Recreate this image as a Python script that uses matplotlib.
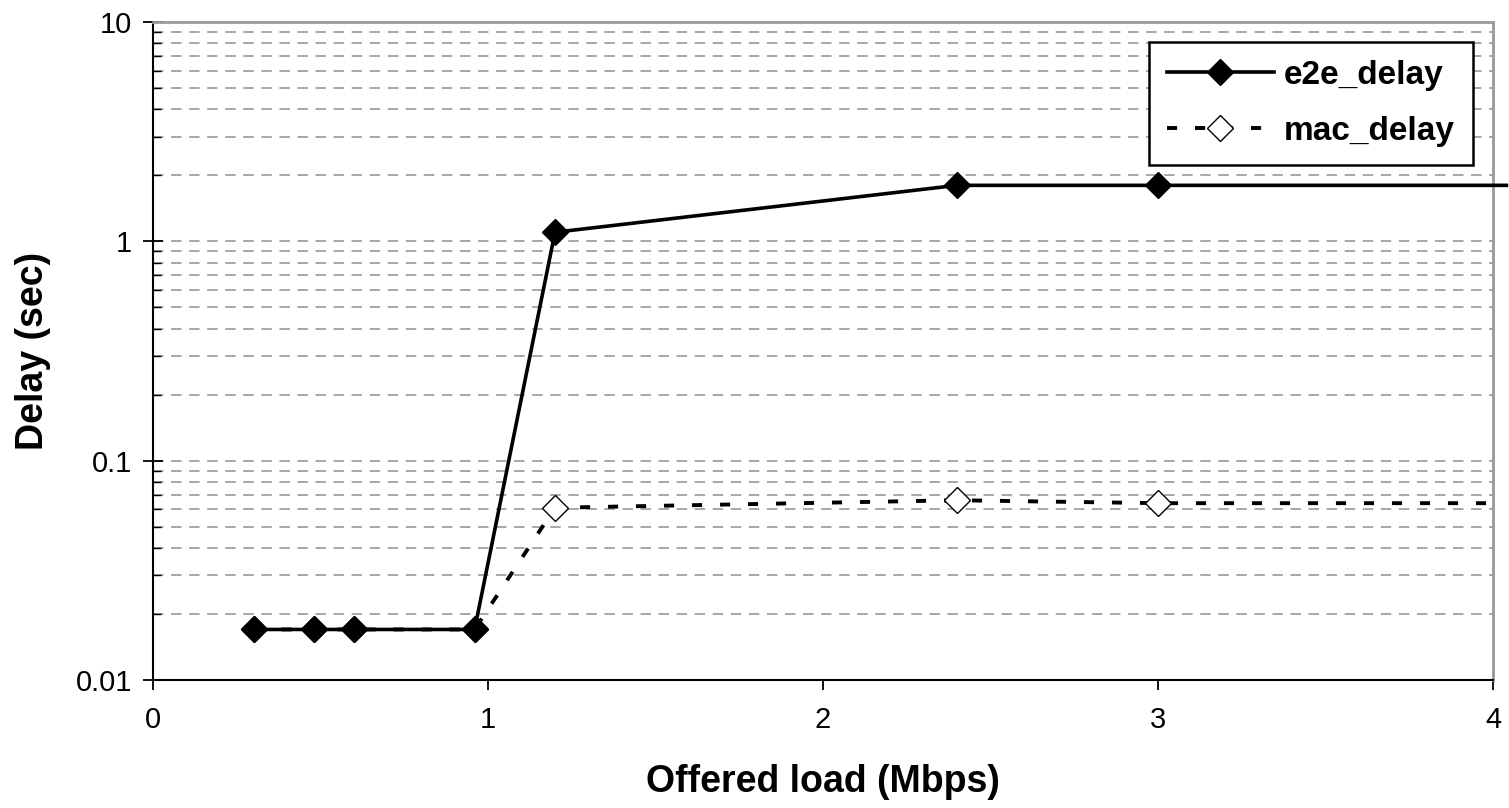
import matplotlib.pyplot as plt
from matplotlib.ticker import LogLocator, FixedLocator, NullFormatter

plt.rcParams['font.family'] = ['Liberation Sans', 'DejaVu Sans']

# offered load (Mbps); the e2e line runs a little past the axis end, as in the original
load = [0.3, 0.48, 0.6, 0.96, 1.2, 2.4, 3.0, 4.04]
e2e_delay = [0.017, 0.017, 0.017, 0.017, 1.1, 1.8, 1.8, 1.8]
mac_load = [0.3, 0.48, 0.6, 0.96, 1.2, 2.4, 3.0, 4.0]
mac_delay = [0.017, 0.017, 0.017, 0.017, 0.061, 0.066, 0.064, 0.064]
shown = list(range(len(load) - 1))

fig = plt.figure(figsize=(15.09, 8.08), dpi=100)
ax = fig.add_axes([153 / 1509, 1 - 680 / 808, 1340 / 1509, 658 / 808])

ax.set_yscale('log')
ax.set_xlim(0, 4)
ax.set_ylim(0.01, 10)

ax.yaxis.set_major_locator(LogLocator(base=10))
ax.yaxis.set_minor_locator(LogLocator(base=10, subs=range(2, 10)))
ax.yaxis.set_minor_formatter(NullFormatter())
ax.set_yticks([0.01, 0.1, 1, 10])
ax.set_yticklabels(['0.01', '0.1', '1', '10'])
ax.xaxis.set_major_locator(FixedLocator([0, 1, 2, 3, 4]))
ax.set_xticklabels(['0', '1', '2', '3', '4'])

ax.grid(True, which='both', axis='y', color='#a0a0a0', linestyle=(0, (5.8, 4.2)), linewidth=1.3)
ax.set_axisbelow(True)

ax.plot(mac_load, mac_delay, color='black', linestyle=(0, (2.6, 4.6)), linewidth=2.8,
        marker='D', markersize=13, markerfacecolor='white', markeredgecolor='black',
        markeredgewidth=1.0, markevery=shown, label='mac_delay', zorder=3)
ax.plot(load, e2e_delay, color='black', linestyle='-', linewidth=2.6,
        marker='D', markersize=13.5, markerfacecolor='black', markeredgecolor='black',
        markevery=shown, clip_on=False, label='e2e_delay', zorder=4)

for side in ['top', 'right']:
    ax.spines[side].set_color('#999999')
    ax.spines[side].set_linewidth(2)
for side in ['left', 'bottom']:
    ax.spines[side].set_color('black')
    ax.spines[side].set_linewidth(1.5)

ax.tick_params(axis='y', which='major', direction='inout', length=14, width=1.3,
               labelsize=21, pad=8)
ax.tick_params(axis='y', which='minor', direction='in', length=6, width=1.0)
ax.tick_params(axis='x', which='major', direction='out', length=7, width=1.3,
               labelsize=21, pad=12)

ax.set_xlabel('Offered load (Mbps)', fontsize=27, fontweight='bold')
ax.set_ylabel('Delay (sec)', fontsize=27, fontweight='bold')
ax.xaxis.set_label_coords(0.5, -0.127)
ax.yaxis.set_label_coords(-0.076, 0.5)

handles, labels = ax.get_legend_handles_labels()
leg = ax.legend(handles[::-1], labels[::-1], loc='upper right',
                bbox_to_anchor=(0.985, 0.97), prop={'size': 24, 'weight': 'bold'},
                frameon=True, fancybox=False, framealpha=1, edgecolor='black',
                borderpad=0.55, labelspacing=0.75, handlelength=3.2,
                handletextpad=0.3, borderaxespad=0)
leg.get_frame().set_linewidth(1.8)

fig.savefig('out.png', dpi=100)
